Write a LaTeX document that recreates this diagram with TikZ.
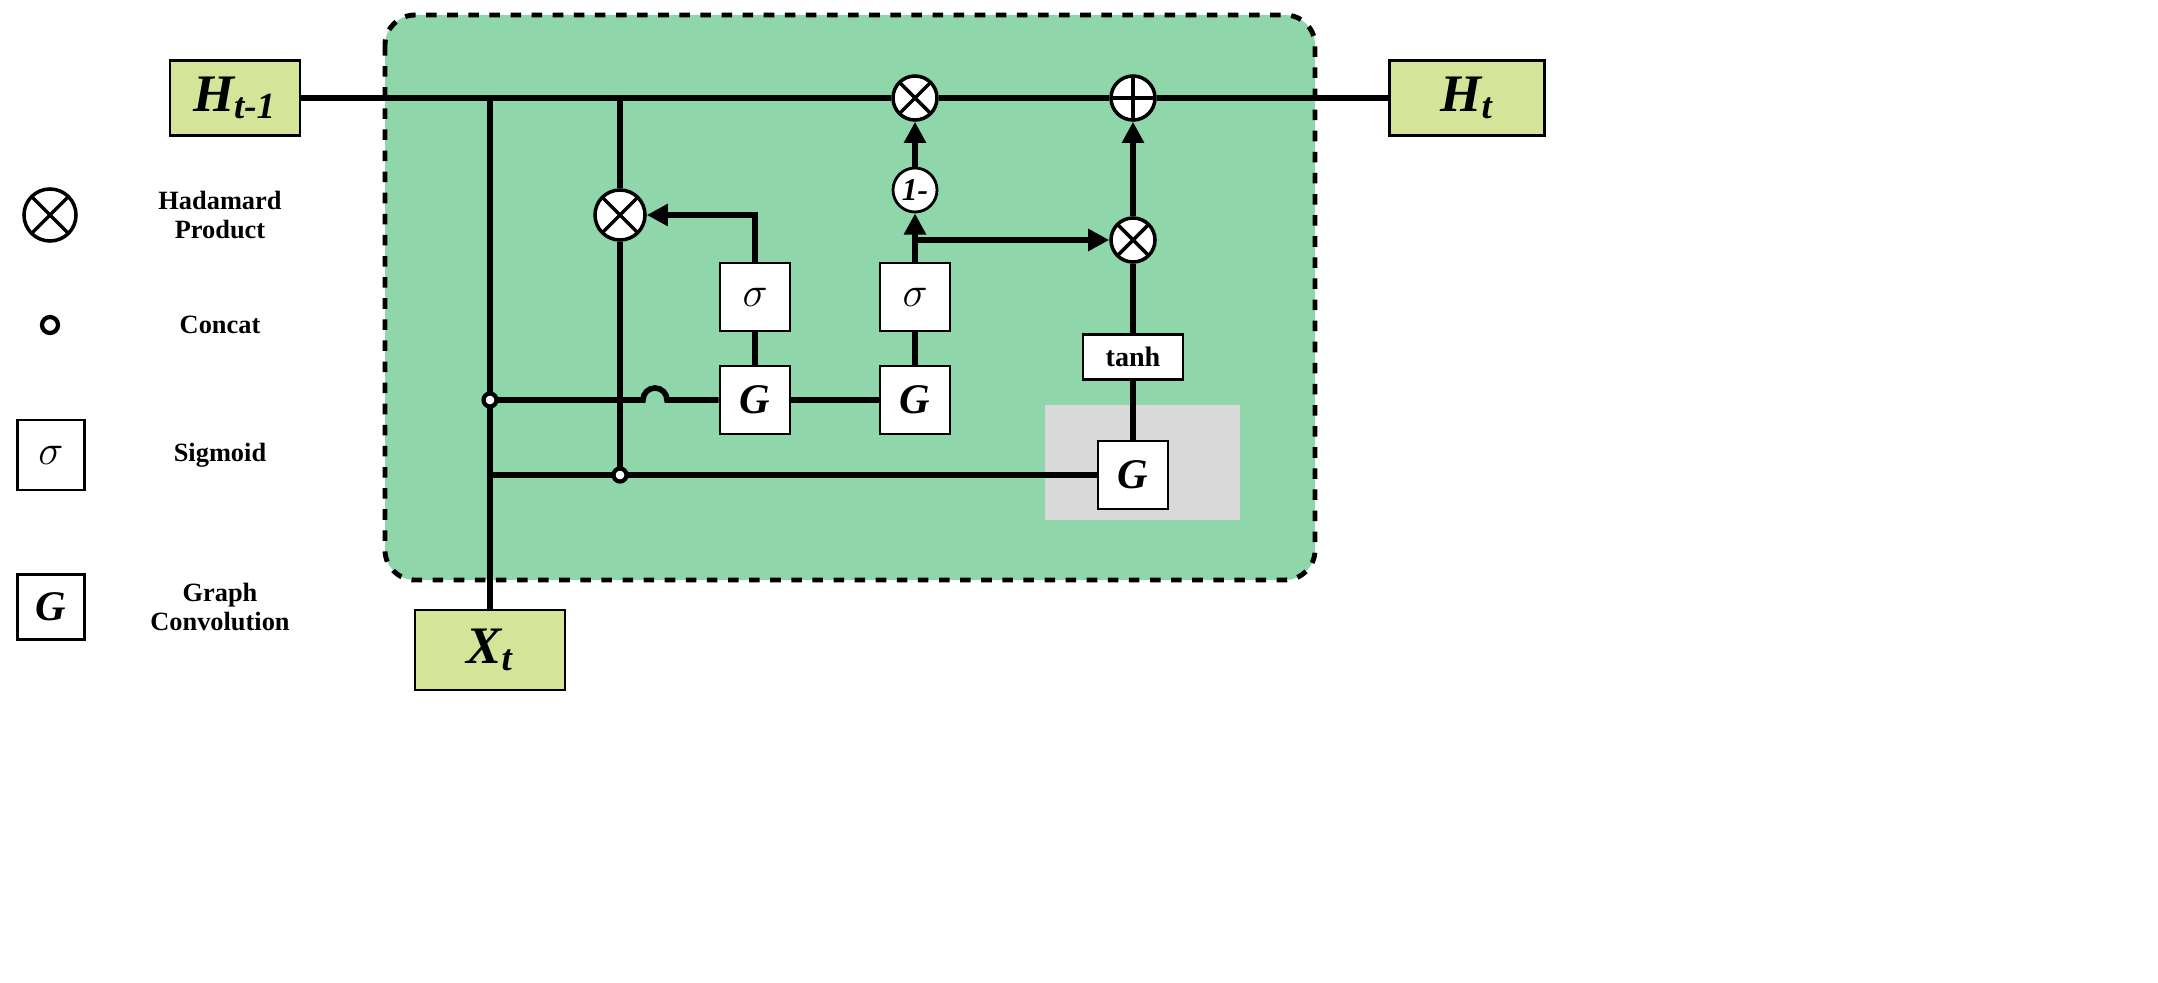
\documentclass[tikz,border=0pt]{standalone}
\usepackage{fontspec}
\setmainfont{Liberation Serif}
\usetikzlibrary{arrows.meta}
\definecolor{cellgreen}{HTML}{8FD7AA}
\definecolor{boxyellow}{HTML}{D4E59A}
\definecolor{gcgray}{HTML}{D9D9D9}
\begin{document}
\begin{tikzpicture}[x=0.01cm, y=-0.01cm, line width=1.6pt,
  io/.style={draw, line width=0.8pt, fill=boxyellow, minimum width=1.3cm, minimum height=0.75cm, font=\fontsize{15}{15}\selectfont\bfseries\itshape},
  op/.style={draw, line width=0.8pt, fill=white, minimum width=0.7cm, minimum height=0.68cm, font=\fontsize{12}{12}\selectfont\bfseries\itshape},
  had/.style={draw, line width=1pt, fill=white, circle, minimum size=0.44cm, inner sep=0pt, path picture={\draw[line width=1pt] (path picture bounding box.north west)--(path picture bounding box.south east) (path picture bounding box.north east)--(path picture bounding box.south west);}},
  add/.style={draw, line width=1pt, fill=white, circle, minimum size=0.44cm, inner sep=0pt, path picture={\draw[line width=1pt] (path picture bounding box.north)--(path picture bounding box.south) (path picture bounding box.east)--(path picture bounding box.west);}},
  cat/.style={draw, line width=1.2pt, fill=white, circle, minimum size=0.13cm, inner sep=0pt},
  lbl/.style={font=\fontsize{7.5}{8.5}\selectfont\bfseries, align=center},
  arr/.style={-{Triangle[length=6pt,width=6pt]}}]
\useasboundingbox (0,0) rectangle (2158,982);
% cell
\draw[line width=1.4pt, dashed, fill=cellgreen, rounded corners=0.3cm] (385,15) rectangle (1315,580);
\fill[gcgray] (1045,405) rectangle (1240,520);
% io boxes
\node[io] (hp) at (235,98) {H\textsubscript{t-1}};
\node[io, minimum width=1.55cm] (ht) at (1467,98) {H\textsubscript{t}};
\node[io, minimum width=1.5cm, minimum height=0.8cm] (xt) at (490,650) {X\textsubscript{t}};
% operators
\node[had] (m1) at (915,98) {};
\node[add] (p1) at (1133,98) {};
\node[had, minimum size=0.5cm] (m2) at (620,215) {};
\node[had] (m3) at (1133,240) {};
\node[draw, line width=0.8pt, fill=white, circle, minimum size=0.44cm, inner sep=0pt, font=\fontsize{9}{9}\selectfont\bfseries\itshape] (om) at (915,190) {1-};
\coordinate (c1) at (490,400);
\coordinate (c2) at (620,475);
\node[op] (g1) at (755,400) {G};
\node[op] (s1) at (755,297) {$\sigma$};
\node[op] (g2) at (915,400) {G};
\node[op] (s2) at (915,297) {$\sigma$};
\node[op] (g3) at (1133,475) {G};
\node[op, minimum width=1cm, minimum height=0.45cm, font=\fontsize{8}{8}\selectfont\bfseries] (th) at (1133,357) {tanh};
\coordinate (j1) at (490,98);
\coordinate (j2) at (620,98);
\coordinate (j3) at (490,475);
\coordinate (j4) at (915,240);
% connectors
\draw (hp) -- (m1) -- (p1) -- (ht);
\draw (xt) -- (j1);
\draw (j2) -- (m2) -- (c2);
\draw (c1) -- (643,400) arc[start angle=180, end angle=360, radius=12] -- (g1);
\draw (g1) -- (g2);
\draw (g1) -- (s1);
\draw[arr] (s1) |- (m2);
\draw (g2) -- (s2);
\draw[arr] (s2) -- (om);
\draw[arr] (om) -- (m1);
\draw[arr] (j4) -- (m3);
\draw (j3) -- (c2) -- (g3);
\draw (g3) -- (th);
\draw (th) -- (m3);
\draw[arr] (m3) -- (p1);
% concat points on top of the lines
\node[cat] (cc1) at (c1) {};
\node[cat] (cc2) at (c2) {};
% legend
\node[had, minimum size=0.52cm] (lh) at (50,215) {};
\node[lbl] (lht) at (220,215) {Hadamard\\Product};
\node[cat, minimum size=0.16cm] (lc) at (50,325) {};
\node[lbl] (lct) at (220,325) {Concat};
\node[op, minimum width=0.67cm, minimum height=0.7cm] (ls) at (51,455) {$\sigma$};
\node[lbl] (lst) at (220,455) {Sigmoid};
\node[op, minimum width=0.67cm, minimum height=0.65cm] (lg) at (51,607) {G};
\node[lbl] (lgt) at (220,607) {Graph\\Convolution};
\end{tikzpicture}
\end{document}
